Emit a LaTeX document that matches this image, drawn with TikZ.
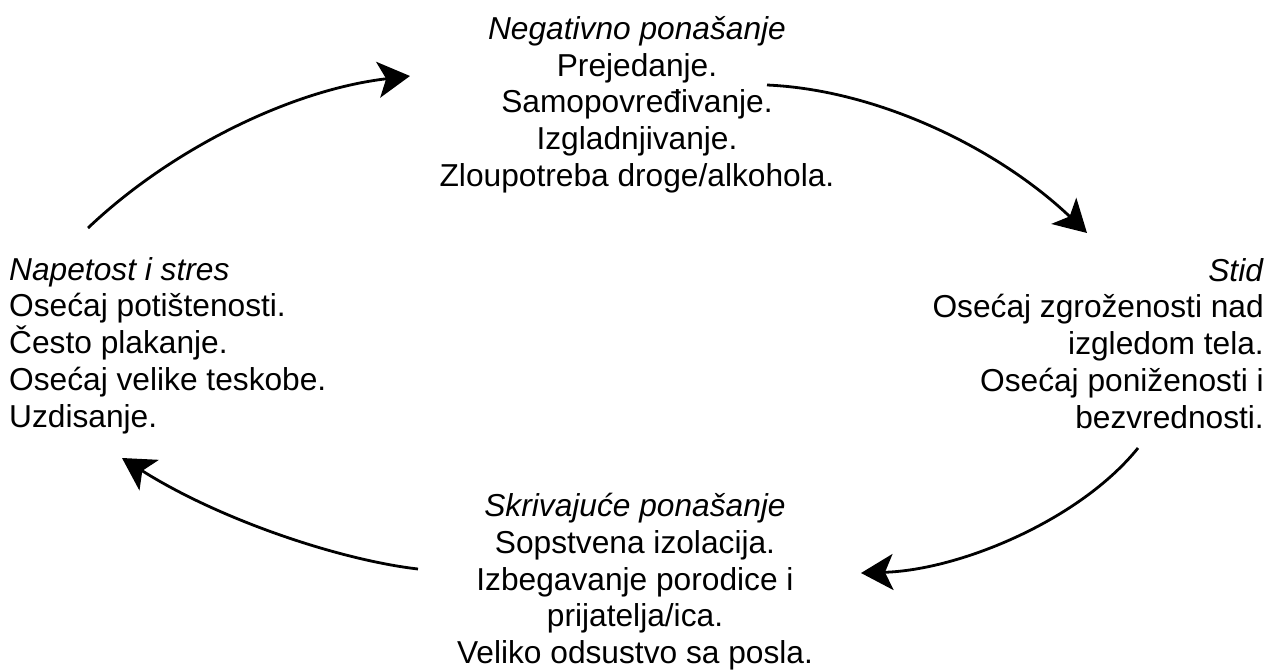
\documentclass[tikz,border=0pt]{standalone}
\usepackage{fontspec}
\setmainfont{Liberation Sans}
\usetikzlibrary{arrows.meta}
\begin{document}
\begin{tikzpicture}[x=1pt,y=-1pt,
  blk/.style={inner sep=0pt, font=\fontsize{31.7}{36.8}\selectfont},
  cyc/.style={line width=2.8pt, -{Stealth[length=32pt,width=36pt,inset=8pt]}}]
\useasboundingbox (0,0) rectangle (1271,670);
\node[blk, align=center, anchor=north] (top) at (637,16)
  {\textit{Negativno ponašanje}\\Prejedanje.\\Samopovređivanje.\\Izgladnjivanje.\\Zloupotreba droge/alkohola.};
\node[blk, align=left, anchor=north west] (left) at (9,257)
  {\textit{Napetost i stres}\\Osećaj potištenosti.\\Često plakanje.\\Osećaj velike teskobe.\\Uzdisanje.};
\node[blk, align=right, anchor=north east] (right) at (1264,258)
  {\textit{Stid}\\Osećaj zgroženosti nad\\izgledom tela.\\Osećaj poniženosti i\\bezvrednosti.};
\node[blk, align=center, anchor=north] (bottom) at (635,493)
  {\textit{Skrivajuće ponašanje}\\Sopstvena izolacija.\\Izbegavanje porodice i\\prijatelja/ica.\\Veliko odsustvo sa posla.};
\coordinate (a1s) at (88,228);
\coordinate (a1e) at (410,76);
\coordinate (a2s) at (767,85);
\coordinate (a2e) at (1087,233);
\coordinate (a3s) at (1138,448);
\coordinate (a3e) at (861,573);
\coordinate (a4s) at (418,569);
\coordinate (a4e) at (122,458);
\draw[cyc] (a1s) .. controls (170,150) and (290,90) .. (a1e);
\draw[cyc] (a2s) .. controls (880,90) and (1000,150) .. (a2e);
\draw[cyc] (a3s) .. controls (1080,520) and (960,570) .. (a3e);
\draw[cyc] (a4s) .. controls (340,560) and (220,520) .. (a4e);
\end{tikzpicture}
\end{document}
